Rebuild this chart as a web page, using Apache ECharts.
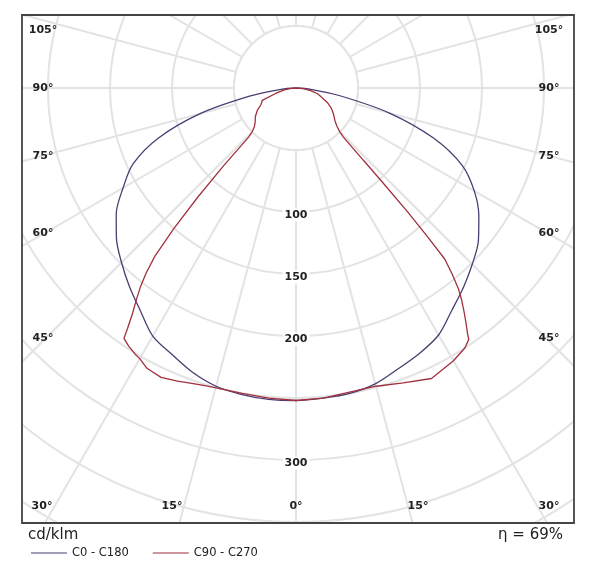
<!DOCTYPE html>
<html><head><meta charset="utf-8">
<script src="https://cdn.jsdelivr.net/npm/echarts@6/dist/echarts.min.js"></script>
<style>html,body{margin:0;padding:0;background:#fff}#c{width:600px;height:568px}</style>
</head><body><div id="c"></div>
<script>
// ---------- DATA (cd/klm vs gamma angle, degrees) ----------
const gammaC0 = [0,5,10,15,20,25,30,35,40,45,50,55,60,65,70,75,80,85,90];
const c0c180Left  = [252,252,251,249,244,237,231,219,209,199,189,177,161,145,118,80,38,12,0];
const c0c180Right = [252,251,250,247,241,236,230,219,210,201,192,180,166,148,118,78,36,12,0];

const gammaC90Left  = [0,5,10,14,17,20,22,25,28,30,31,33,34.5,35,36,37,38,39,40,41,42,43,44,45,47,50,55,60,65,70,72,75,80,85,90];
const c90c270Left   = [252,251,250,250,251,253,255,257.5,256,252,251,248,245,237,224,214,204,192,177,150,118,85,55,50,46,43,40,36,31,29,27,17,10,5,0];
const gammaC90Right = [0,5,10,15,20,25,30,33,34.5,35,36,37,38,39,40,41,41.5,42,42.5,43,44,45,47,50,55,60,65,70,75,80,85,90];
const c90c270Right  = [252,251,249,249,253,258.5,254,250,246,241,233,225,217,208,196,183,160,135,105,80,55,50,45,41,37,33,28,22,18,12,6,0];

const seriesNames = ['C0 - C180', 'C90 - C270'];
const radialTickLabels = [100, 150, 200, 300];
const sideAngleLabels = [105, 90, 75, 60, 45];
const bottomAngleLabels = [30, 15, 0, 15, 30];
const efficiencyText = 'η = 69%';
const unitText = 'cd/klm';

// ---------- LAYOUT ----------
const CX = 296, CY = 88, PX_PER_UNIT = 1.24, R_MAX = 450;
const FRAME = {x: 22, y: 15, w: 552, h: 508};
const sideLabelY = [30, 88, 156, 233, 338];
const sideLabelX = [43, 549];
const bottomLabelX = [42, 172, 296, 418, 549];
const bottomLabelY = 506;
const GRID = '#e3e3e3';
const COL_C0 = '#4a3d72';
const COL_C90 = '#a0313d';

function buildLoop(gR, vR, gL, vL) {
  const out = [];
  for (let i = gR.length - 1; i >= 0; i--) out.push([vR[i], 360 - gR[i]]);
  for (let i = 0; i < gL.length; i++) out.push([vL[i], gL[i]]);
  return out;
}

const chart = echarts.init(document.getElementById('c'), null, {renderer: 'canvas'});
chart.setOption({
  animation: false,
  backgroundColor: '#fff',
  polar: {center: [CX, CY], radius: R_MAX * PX_PER_UNIT},
  angleAxis: {
    type: 'value', min: 0, max: 360, interval: 15, startAngle: 270, clockwise: true,
    axisLine: {show: false}, axisTick: {show: false}, axisLabel: {show: false},
    splitLine: {show: true, lineStyle: {color: GRID, width: 2}}, z: 0
  },
  radiusAxis: {
    type: 'value', min: 0, max: R_MAX, interval: 50,
    axisLine: {show: false}, axisTick: {show: false}, axisLabel: {show: false},
    splitLine: {show: true, lineStyle: {color: GRID, width: 2}}, z: 0
  },
  legend: {
    data: seriesNames, left: 26, top: 542, z: 300,
    icon: 'rect', itemWidth: 36, itemHeight: 1, itemGap: 24,
    textStyle: {fontFamily: 'DejaVu Sans', fontSize: 11.5, color: '#222'}
  },
  series: [
    {name: seriesNames[0], type: 'line', coordinateSystem: 'polar', symbol: 'none', z: 5, smooth: 0.3,
     lineStyle: {color: COL_C0, width: 1.3}, itemStyle: {color: COL_C0},
     data: buildLoop(gammaC0, c0c180Right, gammaC0, c0c180Left)},
    {name: seriesNames[1], type: 'line', coordinateSystem: 'polar', symbol: 'none', z: 5,
     lineStyle: {color: COL_C90, width: 1.3}, itemStyle: {color: COL_C90},
     data: buildLoop(gammaC90Right, c90c270Right, gammaC90Left, c90c270Left)}
  ]
});

// positions derived from the polar scale
const p0 = chart.convertToPixel({seriesIndex: 0}, [0, 0]);
const p50 = chart.convertToPixel({seriesIndex: 0}, [50, 0]);
const innerR = Math.hypot(p50[0] - p0[0], p50[1] - p0[1]);
const lblFont = 'bold 11px "DejaVu Sans"';
const g = [];
g.push({type: 'circle', shape: {cx: p0[0], cy: p0[1], r: innerR}, style: {fill: '#fff', stroke: GRID, lineWidth: 2}, z: 1, silent: true});
radialTickLabels.forEach(v => {
  const p = chart.convertToPixel({seriesIndex: 0}, [v, 0]);
  g.push({type: 'text', x: p[0], y: p[1] + 3, z: 3, silent: true,
    style: {text: String(v), font: lblFont, fill: '#222', align: 'center', verticalAlign: 'middle', backgroundColor: '#fff', padding: [1, 2]}});
});
// masks outside the frame
const W = 600, H = 568;
[[0, 0, W, FRAME.y], [0, 0, FRAME.x, H], [FRAME.x + FRAME.w, 0, W - FRAME.x - FRAME.w, H], [0, FRAME.y + FRAME.h, W, H - FRAME.y - FRAME.h]]
  .forEach(r => g.push({type: 'rect', shape: {x: r[0], y: r[1], width: r[2], height: r[3]}, style: {fill: '#fff'}, z: 100, silent: true}));
g.push({type: 'rect', shape: {x: FRAME.x, y: FRAME.y, width: FRAME.w, height: FRAME.h}, style: {fill: 'none', stroke: '#444', lineWidth: 1.8}, z: 101, silent: true});
sideAngleLabels.forEach((a, i) => {
  sideLabelX.forEach(x => g.push({type: 'text', x: x, y: sideLabelY[i], z: 102, silent: true,
    style: {text: a + '°', font: lblFont, fill: '#222', align: 'center', verticalAlign: 'middle'}}));
});
bottomAngleLabels.forEach((a, i) => g.push({type: 'text', x: bottomLabelX[i], y: bottomLabelY, z: 102, silent: true,
  style: {text: a + '°', font: lblFont, fill: '#222', align: 'center', verticalAlign: 'middle'}}));
g.push({type: 'text', x: 28, y: 535, z: 102, silent: true, style: {text: unitText, font: '15px "DejaVu Sans"', fill: '#222', align: 'left', verticalAlign: 'middle'}});
g.push({type: 'text', x: 563, y: 535, z: 102, silent: true, style: {text: efficiencyText, font: '15px "DejaVu Sans"', fill: '#222', align: 'right', verticalAlign: 'middle'}});
chart.setOption({graphic: g});
</script></body></html>
